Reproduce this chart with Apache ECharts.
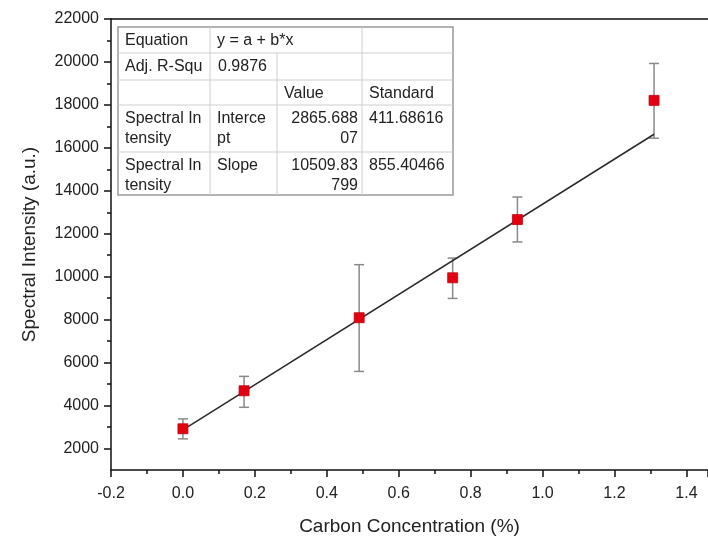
<!DOCTYPE html>
<html>
<head>
<meta charset="utf-8">
<script src="https://cdn.jsdelivr.net/npm/echarts@6/dist/echarts.min.js"></script>
<style>
html,body{margin:0;padding:0;background:#fff;overflow:hidden;}
#chart{width:708px;height:541px;}
</style>
</head>
<body>
<div id="chart"></div>
<script>
// ---- data ----
var conc      = [0, 0.17, 0.49, 0.75, 0.93, 1.31];
var intensity = [2920, 4690, 8090, 9950, 12660, 18210];
var errLow    = [2450, 3920, 5590, 8990, 11620, 16450];
var errHigh   = [3380, 5360, 10560, 10870, 13710, 19930];
var fitX      = [0, 1.31];
var fitY      = [2866, 16634];
var yMajorTicks = [2000, 4000, 6000, 8000, 10000, 12000, 14000, 16000, 18000, 20000, 22000];
var tableRows = [
  ["Equation", "y = a + b*x", "", ""],
  ["Adj. R-Squ", "0.9876", "", ""],
  ["", "", "Value", "Standard"],
  ["Spectral In\ntensity", "Interce\npt", "2865.688\n07", "411.68616"],
  ["Spectral In\ntensity", "Slope", "10509.83\n799", "855.40466"]
];

var FONT = '"Liberation Sans", Arial, sans-serif';
var chart = echarts.init(document.getElementById('chart'), null, {renderer: 'canvas'});

// ---- table graphic ----
var tX = [118, 210, 277, 362, 453];
var tY = [27, 53, 80, 105, 152, 195];
var g = [];
g.push({type:'rect', shape:{x:tX[0], y:tY[0], width:tX[4]-tX[0], height:tY[5]-tY[0]},
  style:{fill:'#fff', stroke:'#9a9a9a', lineWidth:1.5}, z:10});
for (var r = 1; r < 5; r++) {
  g.push({type:'line', shape:{x1:tX[0], y1:tY[r], x2:tX[4], y2:tY[r]}, style:{stroke:'#cfcfcf', lineWidth:1}, z:11});
}
g.push({type:'line', shape:{x1:tX[1], y1:tY[0], x2:tX[1], y2:tY[5]}, style:{stroke:'#cfcfcf', lineWidth:1}, z:11});
g.push({type:'line', shape:{x1:tX[2], y1:tY[1], x2:tX[2], y2:tY[5]}, style:{stroke:'#cfcfcf', lineWidth:1}, z:11});
g.push({type:'line', shape:{x1:tX[3], y1:tY[0], x2:tX[3], y2:tY[5]}, style:{stroke:'#cfcfcf', lineWidth:1}, z:11});
for (var r2 = 0; r2 < tableRows.length; r2++) {
  for (var c = 0; c < 4; c++) {
    var txt = tableRows[r2][c];
    if (!txt) continue;
    var rightAlign = (c === 2 && r2 >= 3);
    var x = rightAlign ? tX[3] - 4 : tX[c] + 7;
    if (r2 === 1 && c === 1) x = tX[1] + 8;
    g.push({type:'text', z:12,
      style:{text: txt, x: x, y: tY[r2] + 4, fill:'#222', font: '16px ' + FONT,
             textAlign: rightAlign ? 'right' : 'left', textVerticalAlign:'top', lineHeight: 20}});
  }
}

var errData = conc.map(function(c, i){ return [c, errLow[i], errHigh[i]]; });

chart.setOption({
  animation: false,
  backgroundColor: '#fff',
  textStyle: {fontFamily: FONT},
  grid: {left: 111, top: 19, right: 0, bottom: 69, containLabel: false},
  xAxis: [{
    type: 'value', min: -0.2, max: 1.46, interval: 0.2,
    name: 'Carbon Concentration (%)', nameLocation: 'middle', nameGap: 47,
    nameTextStyle: {fontSize: 19, color: '#222', fontFamily: FONT},
    axisLine: {show: true, onZero: false, lineStyle: {color: '#111', width: 1.5}},
    axisTick: {show: true, inside: false, length: 7, lineStyle: {color: '#111', width: 1.5}},
    minorTick: {show: true, splitNumber: 2, length: 4, lineStyle: {color: '#111', width: 1.5}},
    axisLabel: {fontSize: 16, color: '#222', margin: 16, showMaxLabel: false,
      formatter: function(v){ return v.toFixed(1); }},
    splitLine: {show: false}
  }, {
    type: 'value', position: 'top', min: -0.2, max: 1.46,
    axisLine: {show: true, onZero: false, lineStyle: {color: '#111', width: 1.5}},
    axisTick: {show: false}, axisLabel: {show: false}, splitLine: {show: false}
  }],
  yAxis: [{
    type: 'value', min: 1000, max: 22000, interval: 1000,
    name: 'Spectral Intensity (a.u.)', nameLocation: 'middle', nameGap: 72,
    nameTextStyle: {fontSize: 19, color: '#222', fontFamily: FONT},
    axisLine: {show: true, onZero: false, lineStyle: {color: '#111', width: 1.5}},
    axisTick: {show: true, inside: false, length: 4, lineStyle: {color: '#111', width: 1.5}},
    axisLabel: {fontSize: 16, color: '#222', margin: 12, showMinLabel: false,
      formatter: function(v){ return (Math.round(v) % 2000 === 0) ? String(v) : ''; }},
    splitLine: {show: false}
  }, {
    type: 'value', position: 'left', offset: 0, min: 1000, max: 22000,
    axisLine: {show: false, onZero: false},
    axisTick: {show: true, inside: false, length: 7, customValues: yMajorTicks, lineStyle: {color: '#111', width: 1.5}},
    axisLabel: {show: false}, splitLine: {show: false}
  }],
  graphic: g,
  series: [{
    type: 'custom', xAxisIndex: 0, yAxisIndex: 0, z: 2,
    data: errData,
    renderItem: function(params, api){
      var top = api.coord([api.value(0), api.value(2)]);
      var bot = api.coord([api.value(0), api.value(1)]);
      var hw = 5;
      var st = {stroke: '#8a8a8a', lineWidth: 1.5};
      return {type: 'group', children: [
        {type:'line', shape:{x1:top[0], y1:top[1], x2:bot[0], y2:bot[1]}, style: st},
        {type:'line', shape:{x1:top[0]-hw, y1:top[1], x2:top[0]+hw, y2:top[1]}, style: st},
        {type:'line', shape:{x1:bot[0]-hw, y1:bot[1], x2:bot[0]+hw, y2:bot[1]}, style: st}
      ]};
    }
  }, {
    type: 'line', xAxisIndex: 0, yAxisIndex: 0, z: 3,
    data: fitX.map(function(x, i){ return [x, fitY[i]]; }),
    symbol: 'none', lineStyle: {color: '#2a2a2a', width: 1.5}
  }, {
    type: 'scatter', xAxisIndex: 0, yAxisIndex: 0, z: 4,
    data: conc.map(function(x, i){ return [x, intensity[i]]; }),
    symbol: 'rect', symbolSize: 10,
    itemStyle: {color: '#e30010', borderColor: '#c00010', borderWidth: 0.8, opacity: 1}
  }]
});
</script>
</body>
</html>
